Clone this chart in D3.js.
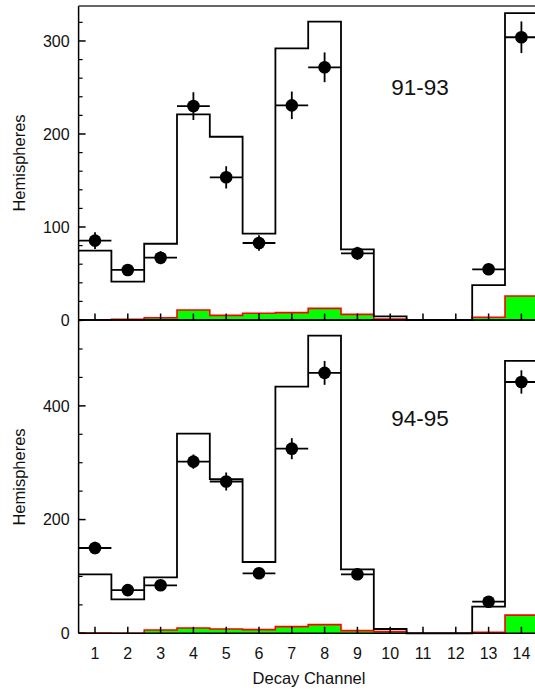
<!DOCTYPE html>
<html>
<head>
<meta charset="utf-8">
<script src="https://cdn.jsdelivr.net/npm/d3@7"></script>
<style>
  html, body { margin: 0; padding: 0; background: #fff; }
  svg { display: block; font-family: Arial, "Liberation Sans", Helvetica, sans-serif; }
</style>
</head>
<body>
<svg id="chart" width="535" height="692"></svg>
<script>
// ---- Data ----
const channels = [1, 2, 3, 4, 5, 6, 7, 8, 9, 10, 11, 12, 13, 14];

// 91-93
const mc9193   = [74.5, 41.2, 82, 221, 197, 92.8, 292, 320.8, 76, 4, 0, 0, 37.6, 330];
const data9193 = [85.3, 53.8, 67, 230, 153.4, 82.8, 230.8, 271.7, 71.7, null, null, null, 54.5, 304];
const err9193  = [9, 6, 7, 14.9, 12, 8.4, 14.8, 16, 7, 0, 0, 0, 6, 17];
const bg9193   = [0, 0.7, 2.5, 10.7, 5, 7.2, 7.9, 12.5, 6, 1, 0, 0, 2.9, 25.8];

// 94-95
const mc9495   = [103.8, 59.8, 98.5, 351, 271, 125.4, 433.8, 523.5, 112.6, 7.6, 0, 0, 46.8, 479];
const data9495 = [150, 76, 84.4, 302, 267, 105.5, 324.7, 458, 103.8, null, null, null, 55.6, 442];
const err9495  = [11, 8, 8, 12.6, 16, 9, 18.5, 21, 9, 0, 0, 0, 7, 20.5];
const bg9495   = [0.5, 0, 5.8, 9.3, 7.6, 6.4, 11.7, 15.2, 4.7, 3, 0, 0, 1.8, 32];

const topTicks = [0, 100, 200, 300];
const botTicks = [0, 200, 400];
const panelLabels = ["91-93", "94-95"];

// ---- Layout ----
const svg = d3.select("#chart");
const xLeft = 78.6, xRight = 537.8;
const x = d3.scaleLinear().domain([0.5, 14.5]).range([xLeft, xRight]);

const panels = [
  { mc: mc9193, data: data9193, err: err9193, bg: bg9193, label: panelLabels[0],
    y: d3.scaleLinear().domain([0, 337.6]).range([320, 6]),
    ticks: topTicks, minor: d3.range(0, 337, 20), labelY: 95, yLabelC: 163, top: 6, bottom: 320 },
  { mc: mc9495, data: data9495, err: err9495, bg: bg9495, label: panelLabels[1],
    y: d3.scaleLinear().domain([0, 551]).range([633.3, 320]),
    ticks: botTicks, minor: d3.range(0, 551, 50), labelY: 426, yLabelC: 477, top: 320, bottom: 633.3 }
];

svg.append("defs").append("clipPath").attr("id", "clip")
  .append("rect").attr("x", xLeft).attr("y", 0).attr("width", 600).attr("height", 692);

function stepPoints(vals) {
  const pts = vals.map((v, i) => [channels[i] - 0.5, v]);
  pts.push([channels[channels.length - 1] + 0.5, vals[vals.length - 1]]);
  return pts;
}

panels.forEach((p, pi) => {
  const g = svg.append("g");
  const plot = g.append("g").attr("clip-path", "url(#clip)");
  const y = p.y;

  // background (green area with red outline)
  const bgPts = stepPoints(p.bg);
  plot.append("path")
    .attr("d", d3.area().x(d => x(d[0])).y0(y(0)).y1(d => y(d[1])).curve(d3.curveStepAfter)(bgPts))
    .attr("fill", "#00ff00").attr("stroke", "none");
  plot.append("path")
    .attr("d", d3.line().x(d => x(d[0])).y(d => y(d[1])).curve(d3.curveStepAfter)(bgPts))
    .attr("fill", "none").attr("stroke", "#ff0000").attr("stroke-width", 1.6);

  // MC histogram
  const mcPts = stepPoints(p.mc);
  plot.append("path")
    .attr("d", d3.line().x(d => x(d[0])).y(d => y(d[1])).curve(d3.curveStepAfter)(mcPts))
    .attr("fill", "none").attr("stroke", "#000").attr("stroke-width", 1.8);

  // data points
  const pts = channels.map((c, i) => ({ c, v: p.data[i], e: p.err[i] })).filter(d => d.v != null);
  const eg = plot.append("g").attr("stroke", "#000").attr("stroke-width", 1.8);
  eg.selectAll("line.h").data(pts).join("line").attr("class", "h")
    .attr("x1", d => x(d.c - 0.5)).attr("x2", d => x(d.c + 0.5))
    .attr("y1", d => y(d.v)).attr("y2", d => y(d.v));
  eg.selectAll("line.v").data(pts).join("line").attr("class", "v")
    .attr("x1", d => x(d.c)).attr("x2", d => x(d.c))
    .attr("y1", d => y(d.v - d.e)).attr("y2", d => y(d.v + d.e));
  plot.selectAll("circle").data(pts).join("circle")
    .attr("cx", d => x(d.c)).attr("cy", d => y(d.v)).attr("r", 6.3).attr("fill", "#000");

  // axes
  const ax = g.append("g").attr("stroke", "#000");
  ax.append("line").attr("x1", xLeft).attr("x2", xLeft).attr("y1", p.top).attr("y2", p.bottom)
    .attr("stroke-width", 1.5);
  ax.append("line").attr("x1", xLeft).attr("x2", 535).attr("y1", p.bottom).attr("y2", p.bottom)
    .attr("stroke-width", 1.5);
  ax.append("line").attr("x1", xLeft).attr("x2", 535).attr("y1", p.top).attr("y2", p.top)
    .attr("stroke-width", 1.5).attr("stroke", pi === 0 ? "#333" : "#000");
  ax.selectAll("line.xt").data(channels).join("line").attr("class", "xt")
    .attr("x1", d => x(d)).attr("x2", d => x(d))
    .attr("y1", p.bottom).attr("y2", p.bottom - 6.5).attr("stroke-width", 1.5);
  ax.selectAll("line.ymaj").data(p.ticks).join("line").attr("class", "ymaj")
    .attr("x1", xLeft).attr("x2", xLeft + 7)
    .attr("y1", d => y(d)).attr("y2", d => y(d)).attr("stroke-width", 1.5);
  ax.selectAll("line.ymin").data(p.minor.filter(v => !p.ticks.includes(v))).join("line").attr("class", "ymin")
    .attr("x1", xLeft).attr("x2", xLeft + 4)
    .attr("y1", d => y(d)).attr("y2", d => y(d)).attr("stroke-width", 1.2);
  g.selectAll("text.yl").data(p.ticks).join("text").attr("class", "yl")
    .attr("x", xLeft - 9).attr("y", d => y(d)).attr("dy", "0.36em")
    .attr("text-anchor", "end").attr("font-size", 16).attr("fill", "#111")
    .text(d => d);
  g.append("text")
    .attr("transform", `translate(25,${p.yLabelC}) rotate(-90)`)
    .attr("text-anchor", "middle").attr("font-size", 16.5).attr("fill", "#111")
    .text("Hemispheres");
  g.append("text").attr("x", 420).attr("y", p.labelY).attr("text-anchor", "middle")
    .attr("font-size", 22.5).attr("fill", "#111").text(p.label);
});

svg.selectAll("text.xl").data(channels).join("text").attr("class", "xl")
  .attr("x", d => x(d)).attr("y", 659).attr("text-anchor", "middle")
  .attr("font-size", 16).attr("fill", "#111").text(d => d);
svg.append("text").attr("x", 309).attr("y", 684).attr("text-anchor", "middle")
  .attr("font-size", 16.5).attr("fill", "#111").text("Decay Channel");
</script>
</body>
</html>
